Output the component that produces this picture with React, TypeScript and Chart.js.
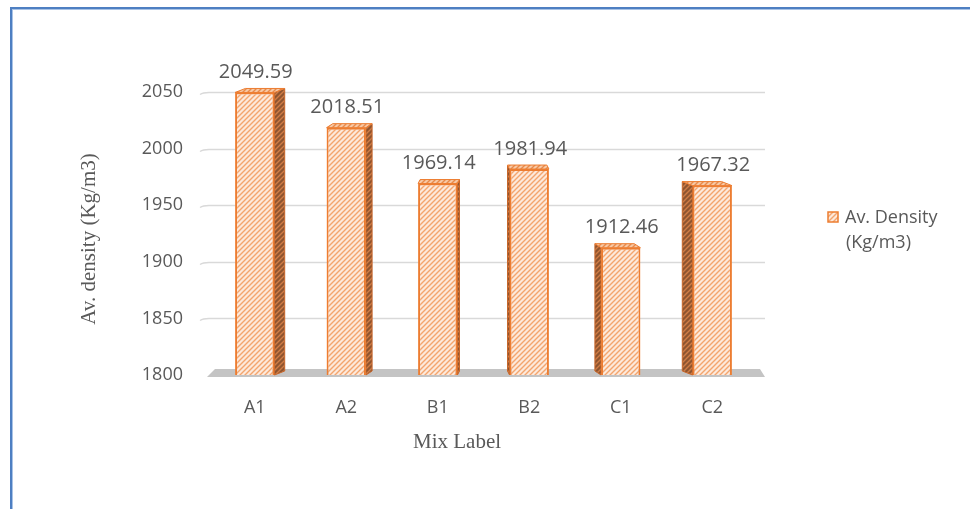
import { useEffect, useRef } from "react";
import { Chart, registerables } from "chart.js";

Chart.register(...registerables);

// Mix labels and their average densities (Kg/m3)
const mixLabels = ["A1", "A2", "B1", "B2", "C1", "C2"];
const avDensity = [2049.59, 2018.51, 1969.14, 1981.94, 1912.46, 1967.32];
const yTickValues = [1800, 1850, 1900, 1950, 2000, 2050];
const legendLines = ["Av. Density", "(Kg/m3)"];
const yTitle = "Av. density (Kg/m3)";
const xTitle = "Mix Label";

const TEXT = "#595959";
const ORANGE = "#ED7D31";
const SANS = "'Open Sans', 'Noto Sans', sans-serif";
const SERIF = "'Liberation Serif', 'Times New Roman', serif";

function makeHatch(bg: string, line: string, size = 5, lw = 1.4) {
  const c = document.createElement("canvas");
  c.width = size;
  c.height = size;
  const g = c.getContext("2d")!;
  g.fillStyle = bg;
  g.fillRect(0, 0, size, size);
  g.strokeStyle = line;
  g.lineWidth = lw;
  g.beginPath();
  g.moveTo(-1, size + 1);
  g.lineTo(size + 1, -1);
  g.moveTo(-1, 1);
  g.lineTo(1, -1);
  g.moveTo(size - 1, size + 1);
  g.lineTo(size + 1, size - 1);
  g.stroke();
  return g.createPattern(c, "repeat")!;
}

export default function App() {
  const ref = useRef<HTMLCanvasElement | null>(null);

  useEffect(() => {
    const canvas = ref.current!;
    const front = makeHatch("#FDE9DB", "#F3A56E");
    const side = makeHatch("#8E5530", "#D07C45");
    const topFace = makeHatch("#F7C9A6", "#E88A4A");

    const decor = {
      id: "decor",
      beforeDatasetsDraw(chart: any) {
        const { ctx, chartArea } = chart;
        const y = chart.scales.y;
        ctx.save();
        // horizontal gridlines
        ctx.strokeStyle = "#D9D9D9";
        ctx.lineWidth = 1.5;
        yTickValues.forEach((v) => {
          if (v === yTickValues[0]) return;
          const py = Math.round(y.getPixelForValue(v)) + 0.5;
          ctx.beginPath();
          ctx.moveTo(chartArea.left - 9, py + 2);
          ctx.quadraticCurveTo(chartArea.left - 6, py, chartArea.left, py);
          ctx.lineTo(chartArea.right + 7, py);
          ctx.stroke();
        });
        // floor band
        const fy = y.getPixelForValue(yTickValues[0]);
        ctx.fillStyle = "#C4C4C4";
        ctx.beginPath();
        ctx.moveTo(chartArea.left - 2, fy + 2);
        ctx.lineTo(chartArea.left + 6, fy - 6);
        ctx.lineTo(chartArea.right + 2, fy - 6);
        ctx.lineTo(chartArea.right + 7, fy + 2);
        ctx.closePath();
        ctx.fill();

        // side and top faces of the columns
        const cx = (chartArea.left + chartArea.right) / 2;
        const meta = chart.getDatasetMeta(0);
        meta.data.forEach((bar: any) => {
          const p = bar.getProps(["x", "y", "width"], true);
          const x = p.x;
          const top = p.y;
          const base = fy;
          const l = x - p.width / 2;
          const r = x + p.width / 2;
          const dx = -(x - cx) * 0.045;
          const dy = -4;
          ctx.lineWidth = 1;
          ctx.strokeStyle = "#C8662A";
          ctx.fillStyle = side;
          ctx.beginPath();
          const ex = dx >= 0 ? r : l;
          ctx.moveTo(ex, top);
          ctx.lineTo(ex + dx, top + dy);
          ctx.lineTo(ex + dx, base + dy);
          ctx.lineTo(ex, base);
          ctx.closePath();
          ctx.fill();
          ctx.stroke();
          ctx.fillStyle = topFace;
          ctx.strokeStyle = ORANGE;
          ctx.beginPath();
          ctx.moveTo(l, top);
          ctx.lineTo(l + dx, top + dy);
          ctx.lineTo(r + dx, top + dy);
          ctx.lineTo(r, top);
          ctx.closePath();
          ctx.fill();
          ctx.stroke();
        });
        ctx.restore();
      },
      afterDraw(chart: any) {
        const { ctx } = chart;
        const meta = chart.getDatasetMeta(0);
        ctx.save();
        // value labels
        ctx.fillStyle = TEXT;
        ctx.font = `20px ${SANS}`;
        ctx.textAlign = "center";
        ctx.textBaseline = "middle";
        meta.data.forEach((bar: any, i: number) => {
          const { x, y } = bar.getProps(["x", "y"], true);
          ctx.fillText(avDensity[i].toFixed(2), x + 1, y - 20);
        });
        // axis titles
        ctx.font = `21px ${SERIF}`;
        ctx.fillText(xTitle, 457, 442);
        ctx.save();
        ctx.translate(89, 239);
        ctx.rotate(-Math.PI / 2);
        ctx.fillText(yTitle, 0, 0);
        ctx.restore();
        // legend
        ctx.fillStyle = front;
        ctx.fillRect(828, 212, 10, 10);
        ctx.strokeStyle = ORANGE;
        ctx.lineWidth = 1.5;
        ctx.strokeRect(828, 212, 10, 10);
        ctx.fillStyle = TEXT;
        ctx.font = `18px ${SANS}`;
        ctx.textAlign = "left";
        ctx.fillText(legendLines[0], 845, 218);
        ctx.fillText(legendLines[1], 846, 243);
        ctx.restore();
      },
    };

    const chart = new Chart(canvas, {
      type: "bar",
      data: {
        labels: mixLabels,
        datasets: [
          {
            label: legendLines.join(" "),
            data: avDensity,
            backgroundColor: front,
            borderColor: ORANGE,
            borderWidth: 2,
            categoryPercentage: 1,
            barPercentage: 0.43,
          },
        ],
      },
      options: {
        responsive: false,
        animation: false,
        devicePixelRatio: 1,
        layout: { padding: { left: 0, top: 92, right: 212, bottom: 74 } },
        plugins: { legend: { display: false }, tooltip: { enabled: false } },
        scales: {
          x: {
            grid: { display: false, drawTicks: false },
            border: { display: false },
            ticks: { color: TEXT, font: { family: SANS, size: 18 }, padding: 22 },
            afterFit: (s: any) => {
              s.height = 60;
            },
          },
          y: {
            min: 1800,
            max: 2050,
            grid: { display: false, drawTicks: false },
            border: { display: false },
            ticks: {
              color: TEXT,
              font: { family: SANS, size: 18 },
              padding: 26,
              callback: (v: any) => String(v),
            },
            afterBuildTicks: (s: any) => {
              s.ticks = yTickValues.map((v) => ({ value: v }));
            },
            afterFit: (s: any) => {
              s.width = 209;
            },
          },
        },
      },
      plugins: [decor],
    });
    return () => chart.destroy();
  }, []);

  return (
    <div style={{ position: "fixed", left: 0, top: 0, width: 970, height: 509, background: "#fff", overflow: "hidden" }}>
      <canvas ref={ref} width={970} height={509} style={{ position: "absolute", left: 0, top: 0 }} />
      <div
        style={{
          position: "absolute",
          left: 10,
          top: 7,
          width: 980,
          height: 520,
          borderLeft: "2px solid #4E7FC2",
          borderTop: "2px solid #4E7FC2",
          boxShadow: "inset 1px 1px 0 #A9C3E6",
          pointerEvents: "none",
        }}
      />
    </div>
  );
}
